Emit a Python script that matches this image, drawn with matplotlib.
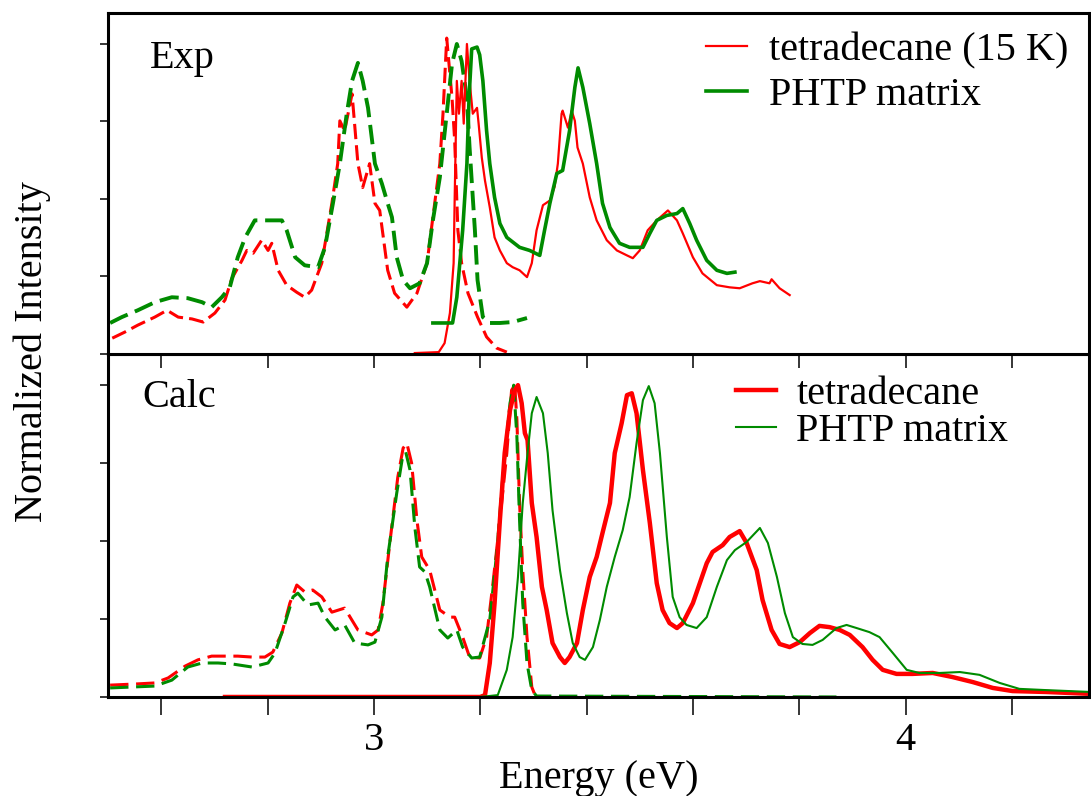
import numpy as np
import matplotlib.pyplot as plt

plt.rcParams['font.family'] = ['Liberation Serif', 'DejaVu Serif']
plt.rcParams['font.size'] = 29

RED = '#ff0000'
GREEN = '#008b00'

# ---- Exp panel ----
# absorption, tetradecane (dashed red)
exp_abs_tet_e = [2.508, 2.532, 2.556, 2.588, 2.611, 2.632, 2.658, 2.679, 2.701, 2.720,
                 2.733, 2.752, 2.761, 2.773, 2.789, 2.801, 2.808, 2.820, 2.836, 2.855,
                 2.870, 2.883, 2.902, 2.921, 2.932, 2.936, 2.945, 2.959, 2.970, 2.979,
                 2.992, 3.002, 3.011, 3.026, 3.039, 3.062, 3.081, 3.100, 3.111, 3.124,
                 3.130, 3.137, 3.147, 3.152, 3.158, 3.165, 3.177, 3.195, 3.212, 3.231,
                 3.250]
exp_abs_tet_i = [0.051, 0.071, 0.093, 0.119, 0.141, 0.119, 0.113, 0.103, 0.132, 0.174,
                 0.244, 0.302, 0.334, 0.325, 0.367, 0.334, 0.357, 0.270, 0.222, 0.199,
                 0.183, 0.206, 0.293, 0.486, 0.614, 0.752, 0.720, 0.839, 0.614, 0.537,
                 0.614, 0.486, 0.463, 0.270, 0.196, 0.151, 0.196, 0.293, 0.441, 0.614,
                 0.775, 1.019, 0.826, 0.688, 0.399, 0.293, 0.196, 0.119, 0.055, 0.019,
                 0.006]

# absorption, PHTP matrix (dashed green)
exp_abs_phtp_e = [2.504, 2.526, 2.556, 2.588, 2.620, 2.650, 2.677, 2.695, 2.714, 2.729,
                  2.744, 2.758, 2.776, 2.795, 2.827, 2.836, 2.852, 2.870, 2.895, 2.908,
                  2.923, 2.936, 2.949, 2.959, 2.970, 2.979, 2.989, 3.002, 3.015, 3.026,
                  3.034, 3.043, 3.055, 3.068, 3.086, 3.100, 3.111, 3.124, 3.137, 3.147,
                  3.156, 3.165, 3.175, 3.180, 3.190, 3.195, 3.205, 3.218, 3.237, 3.261,
                  3.288]
exp_abs_phtp_i = [0.100, 0.119, 0.141, 0.167, 0.183, 0.180, 0.167, 0.151, 0.183, 0.215,
                  0.312, 0.376, 0.431, 0.431, 0.431, 0.399, 0.312, 0.286, 0.280, 0.344,
                  0.486, 0.614, 0.775, 0.881, 0.939, 0.881, 0.794, 0.614, 0.550, 0.486,
                  0.441, 0.312, 0.238, 0.212, 0.228, 0.293, 0.431, 0.569, 0.775, 0.936,
                  1.000, 0.945, 0.826, 0.666, 0.399, 0.238, 0.119, 0.100, 0.100, 0.103,
                  0.116]

# emission, tetradecane 15 K (solid red)
exp_em_tet_e = [3.077, 3.122, 3.133, 3.143, 3.150, 3.152, 3.156, 3.160, 3.165, 3.169,
                3.175, 3.180, 3.186, 3.194, 3.197, 3.203, 3.209, 3.218, 3.227, 3.237,
                3.250, 3.261, 3.274, 3.288, 3.297, 3.306, 3.318, 3.331, 3.340, 3.346,
                3.353, 3.355, 3.365, 3.372, 3.378, 3.383, 3.393, 3.406, 3.419, 3.438,
                3.457, 3.476, 3.487, 3.500, 3.515, 3.532, 3.553, 3.570, 3.581, 3.600,
                3.618, 3.645, 3.669, 3.688, 3.712, 3.726, 3.744, 3.748, 3.763, 3.782]
exp_em_tet_i = [0.003, 0.006, 0.035, 0.132, 0.293, 0.505, 0.881, 0.775, 0.881, 0.743,
                1.000, 0.881, 0.775, 0.794, 0.743, 0.633, 0.559, 0.473, 0.376, 0.334,
                0.293, 0.280, 0.270, 0.248, 0.293, 0.399, 0.480, 0.495, 0.540, 0.614,
                0.775, 0.785, 0.730, 0.785, 0.752, 0.666, 0.614, 0.505, 0.431, 0.367,
                0.334, 0.318, 0.309, 0.334, 0.399, 0.431, 0.463, 0.431, 0.389, 0.312,
                0.260, 0.222, 0.215, 0.212, 0.228, 0.235, 0.228, 0.241, 0.212, 0.190]

# emission, PHTP matrix (solid green)
exp_em_phtp_e = [3.111, 3.148, 3.156, 3.167, 3.175, 3.179, 3.184, 3.194, 3.199, 3.205,
                 3.212, 3.218, 3.227, 3.237, 3.250, 3.274, 3.293, 3.312, 3.321, 3.331,
                 3.344, 3.355, 3.368, 3.378, 3.384, 3.393, 3.406, 3.419, 3.430, 3.444,
                 3.462, 3.481, 3.506, 3.519, 3.532, 3.551, 3.570, 3.581, 3.594, 3.607,
                 3.626, 3.645, 3.664, 3.679]
exp_em_phtp_i = [0.100, 0.100, 0.183, 0.399, 0.614, 0.826, 0.984, 0.990, 0.965, 0.881,
                 0.720, 0.614, 0.505, 0.421, 0.376, 0.344, 0.334, 0.318, 0.399, 0.486,
                 0.582, 0.592, 0.720, 0.860, 0.923, 0.860, 0.743, 0.614, 0.486, 0.408,
                 0.357, 0.344, 0.344, 0.389, 0.431, 0.447, 0.453, 0.469, 0.421, 0.367,
                 0.302, 0.270, 0.260, 0.264]

# ---- Calc panel ----
calc_abs_tet_e = [2.504, 2.556, 2.588, 2.613, 2.645, 2.669, 2.695, 2.744, 2.771, 2.795,
                  2.810, 2.827, 2.842, 2.855, 2.870, 2.885, 2.902, 2.921, 2.945, 2.970,
                  2.996, 3.008, 3.017, 3.030, 3.045, 3.055, 3.062, 3.071, 3.081, 3.090,
                  3.105, 3.124, 3.143, 3.152, 3.167, 3.180, 3.199, 3.212, 3.224, 3.237,
                  3.250, 3.259, 3.265, 3.269, 3.274, 3.280, 3.288, 3.297, 3.303]
calc_abs_tet_i = [0.038, 0.042, 0.045, 0.061, 0.099, 0.119, 0.131, 0.131, 0.128, 0.128,
                  0.144, 0.205, 0.301, 0.359, 0.337, 0.343, 0.321, 0.272, 0.285, 0.215,
                  0.199, 0.215, 0.301, 0.494, 0.705, 0.798, 0.814, 0.750, 0.567, 0.449,
                  0.407, 0.279, 0.256, 0.256, 0.192, 0.128, 0.125, 0.192, 0.365, 0.567,
                  0.782, 0.984, 1.000, 0.888, 0.622, 0.407, 0.192, 0.032, 0.006]

calc_abs_phtp_e = [2.504, 2.588, 2.620, 2.650, 2.677, 2.707, 2.733, 2.771, 2.801, 2.814,
                   2.833, 2.848, 2.857, 2.876, 2.895, 2.908, 2.927, 2.945, 2.964, 2.989,
                   3.002, 3.015, 3.026, 3.043, 3.053, 3.060, 3.068, 3.077, 3.086, 3.096,
                   3.105, 3.124, 3.139, 3.156, 3.167, 3.184, 3.199, 3.218, 3.231, 3.242,
                   3.256, 3.263, 3.269, 3.274, 3.280, 3.288, 3.297, 3.306, 3.870]
calc_abs_phtp_i = [0.029, 0.035, 0.054, 0.096, 0.109, 0.109, 0.106, 0.096, 0.109, 0.141,
                   0.237, 0.321, 0.333, 0.295, 0.301, 0.256, 0.215, 0.231, 0.173, 0.167,
                   0.176, 0.256, 0.449, 0.654, 0.760, 0.785, 0.728, 0.545, 0.417, 0.401,
                   0.353, 0.215, 0.189, 0.215, 0.160, 0.125, 0.128, 0.247, 0.462, 0.696,
                   0.942, 1.000, 0.833, 0.567, 0.301, 0.109, 0.022, 0.003, 0.000]

calc_em_tet_e = [2.720, 3.200, 3.209, 3.218, 3.227, 3.237, 3.246, 3.256, 3.265, 3.271,
                 3.278, 3.284, 3.289, 3.297, 3.306, 3.316, 3.325, 3.336, 3.350, 3.359,
                 3.368, 3.382, 3.393, 3.406, 3.419, 3.430, 3.444, 3.453, 3.466, 3.476,
                 3.485, 3.494, 3.506, 3.519, 3.532, 3.543, 3.556, 3.570, 3.581, 3.600,
                 3.613, 3.626, 3.637, 3.656, 3.669, 3.688, 3.701, 3.720, 3.731, 3.748,
                 3.763, 3.782, 3.801, 3.820, 3.838, 3.857, 3.876, 3.895, 3.919, 3.938,
                 3.957, 3.983, 4.013, 4.051, 4.088, 4.126, 4.164, 4.201, 4.265, 4.348]
calc_em_tet_i = [0.000, 0.000, 0.006, 0.109, 0.301, 0.567, 0.782, 0.920, 0.984, 1.000,
                 0.942, 0.846, 0.824, 0.622, 0.513, 0.353, 0.279, 0.173, 0.128, 0.109,
                 0.128, 0.173, 0.279, 0.385, 0.449, 0.526, 0.622, 0.782, 0.878, 0.968,
                 0.974, 0.910, 0.728, 0.558, 0.365, 0.279, 0.237, 0.221, 0.237, 0.301,
                 0.365, 0.429, 0.465, 0.487, 0.513, 0.532, 0.494, 0.407, 0.311, 0.215,
                 0.170, 0.160, 0.176, 0.205, 0.228, 0.224, 0.215, 0.199, 0.160, 0.119,
                 0.087, 0.074, 0.074, 0.077, 0.064, 0.048, 0.029, 0.019, 0.016, 0.010]

calc_em_phtp_e = [3.200, 3.233, 3.250, 3.261, 3.271, 3.280, 3.289, 3.297, 3.306, 3.318,
                  3.327, 3.336, 3.350, 3.363, 3.374, 3.387, 3.397, 3.412, 3.425, 3.438,
                  3.453, 3.468, 3.481, 3.494, 3.506, 3.517, 3.528, 3.538, 3.551, 3.562,
                  3.575, 3.588, 3.607, 3.626, 3.645, 3.664, 3.679, 3.701, 3.726, 3.741,
                  3.758, 3.773, 3.788, 3.806, 3.825, 3.844, 3.870, 3.889, 3.908, 3.932,
                  3.951, 3.976, 4.002, 4.026, 4.064, 4.102, 4.139, 4.177, 4.214, 4.265,
                  4.348]
calc_em_phtp_i = [0.000, 0.006, 0.087, 0.192, 0.385, 0.622, 0.782, 0.910, 0.962, 0.910,
                  0.782, 0.599, 0.407, 0.269, 0.173, 0.128, 0.119, 0.160, 0.247, 0.353,
                  0.449, 0.535, 0.641, 0.814, 0.952, 0.997, 0.942, 0.782, 0.513, 0.321,
                  0.256, 0.231, 0.221, 0.256, 0.353, 0.439, 0.471, 0.497, 0.542, 0.494,
                  0.385, 0.269, 0.192, 0.170, 0.167, 0.183, 0.221, 0.231, 0.221, 0.208,
                  0.192, 0.141, 0.087, 0.077, 0.077, 0.080, 0.071, 0.045, 0.026, 0.022,
                  0.016]

x_ticks = [2.6, 2.8, 3.0, 3.2, 3.4, 3.6, 3.8, 4.0, 4.2]
x_ticklabels = ['', '', '3', '', '', '', '', '4', '']
y_ticks = [0, 0.25, 0.5, 0.75, 1.0]

fig = plt.figure(figsize=(10.91, 7.96), dpi=100)
ax_top = fig.add_axes([0.099, 0.5553, 0.8992, 0.4284])
ax_bot = fig.add_axes([0.099, 0.1244, 0.8992, 0.4309])
ax_top.set_zorder(2)

# Exp
ax_top.plot(exp_abs_tet_e, exp_abs_tet_i, color=RED, lw=2.2, dashes=(5, 2))
ax_top.plot(exp_abs_phtp_e, exp_abs_phtp_i, color=GREEN, lw=2.8, dashes=(5, 2))
ax_top.plot(exp_em_tet_e, exp_em_tet_i, color=RED, lw=1.6, label='tetradecane (15 K)')
ax_top.plot(exp_em_phtp_e, exp_em_phtp_i, color=GREEN, lw=2.6, label='PHTP matrix')

# Calc
ax_bot.plot(calc_abs_tet_e, calc_abs_tet_i, color=RED, lw=2.2, dashes=(6, 2.5))
ax_bot.plot(calc_abs_phtp_e, calc_abs_phtp_i, color=GREEN, lw=2.2, dashes=(6, 2.5))
ax_bot.plot(calc_em_tet_e, calc_em_tet_i, color=RED, lw=3.2, label='tetradecane')
ax_bot.plot(calc_em_phtp_e, calc_em_phtp_i, color=GREEN, lw=1.5, label='PHTP matrix')

for ax in (ax_top, ax_bot):
    ax.set_xlim(2.5, 4.345)
    ax.set_ylim(0, 1.1)
    ax.set_xticks(x_ticks)
    ax.set_yticks(y_ticks)
    ax.tick_params(axis='y', direction='out', length=6, width=1.1, labelleft=False)
    for s in ax.spines.values():
        s.set_linewidth(2.2)

ax_top.tick_params(axis='x', direction='out', length=10, width=1.1, labelbottom=False)
ax_bot.set_xticklabels(x_ticklabels)
ax_bot.tick_params(axis='x', direction='out', length=13, width=1.1, pad=5)
ax_bot.set_xlabel('Energy (eV)', labelpad=1)

ax_top.text(0.043, 0.839, 'Exp', transform=ax_top.transAxes)
ax_bot.text(0.035, 0.845, 'Calc', transform=ax_bot.transAxes)

ax_top.legend(loc='upper left', bbox_to_anchor=(0.61, 0.945), frameon=False,
              borderpad=0, borderaxespad=0, handlelength=1.0, handletextpad=0.55,
              labelspacing=0.2)
ax_bot.legend(loc='upper left', bbox_to_anchor=(0.64, 0.937), frameon=False,
              borderpad=0, borderaxespad=0, handlelength=1.0, handletextpad=0.5,
              labelspacing=0.0)

fig.text(0.03, 0.558, 'Normalized Intensity', rotation=90, ha='center', va='center')

fig.savefig('out.png', dpi=100)
